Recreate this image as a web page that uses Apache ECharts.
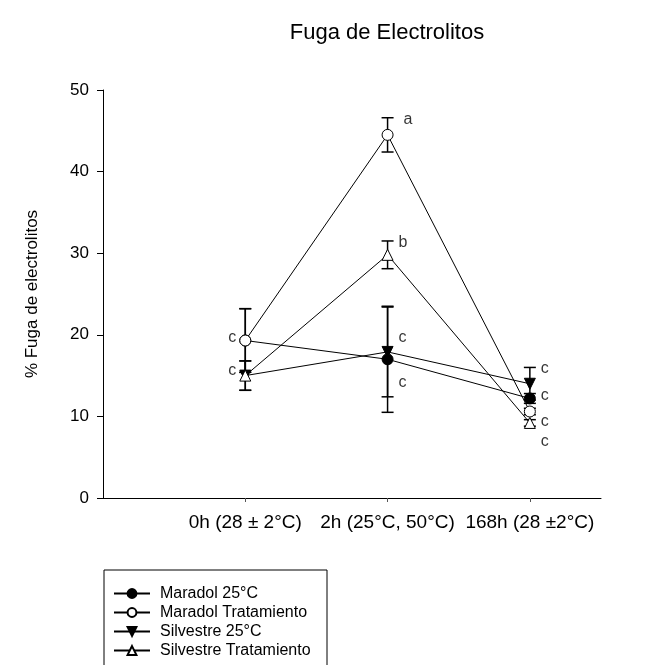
<!DOCTYPE html>
<html>
<head>
<meta charset="utf-8">
<script src="https://cdn.jsdelivr.net/npm/echarts@6/dist/echarts.min.js"></script>
<style>html,body{margin:0;padding:0;background:#fff}#c{width:660px;height:665px}</style>
</head>
<body>
<div id="c"></div>
<script>
var categories = ['0h (28 ± 2°C)', '2h (25°C, 50°C)', '168h (28 ±2°C)'];
var yTicks = [0, 10, 20, 30, 40, 50];
var seriesNames = ['Maradol 25°C', 'Maradol Tratamiento', 'Silvestre 25°C', 'Silvestre Tratamiento'];
var maradol25 = [19.3, 17.0, 12.2];
var maradolTrat = [19.3, 44.5, 10.6];
var silvestre25 = [15.0, 17.9, 14.0];
var silvestreTrat = [15.0, 29.8, 9.2];
var maradol25Err = [3.9, 6.5, 0.6];
var maradolTratErr = [3.9, 2.1, 0.4];
var silvestre25Err = [1.8, 5.5, 2.0];
var silvestreTratErr = [1.8, 1.7, 0.4];
// significance letters: [category index, value, letter]
var lettersRight = [[1, 46.4, 'a'], [1, 31.3, 'b'], [1, 19.6, 'c'], [1, 14.2, 'c'], [2, 15.8, 'c'], [2, 12.6, 'c'], [2, 9.4, 'c'], [2, 6.9, 'c']];
var lettersLeft = [[0, 19.7, 'c'], [0, 15.6, 'c']];

var FONT = 'Liberation Sans, Arial, sans-serif';
var chart = echarts.init(document.getElementById('c'), null, {renderer: 'canvas'});

// categories sit at positions 1,2,3 on an x scale running 0..3.5
var catPos = categories.map(function (c, i) { return i + 1; });
var means = [maradol25, maradolTrat, silvestre25, silvestreTrat];
var errs = [maradol25Err, maradolTratErr, silvestre25Err, silvestreTratErr];
var symbols = ['circle', 'circle', 'triangle', 'triangle'];
var rotates = [0, 0, 180, 0];
var fills = ['#000', '#fff', '#000', '#fff'];

function errData(m, e) {
  return m.map(function (v, i) { return [catPos[i], v - e[i], v + e[i]]; });
}
function pairs(m) {
  return m.map(function (v, i) { return [catPos[i], v]; });
}
function letterData(arr) {
  return arr.map(function (d) {
    var item = {value: [catPos[d[0]], d[1], d[2]]};
    if (d[2] === 'a') item.label = {distance: 16};
    return item;
  });
}

var series = [];
means.forEach(function (m, k) {
  series.push({
    type: 'custom',
    name: seriesNames[k] + ' err',
    data: errData(m, errs[k]),
    z: 2,
    silent: true,
    renderItem: function (params, api) {
      var x = api.value(0);
      var lo = api.coord([x, api.value(1)]);
      var hi = api.coord([x, api.value(2)]);
      var w = 6;
      var st = {stroke: '#000', lineWidth: 1.5};
      return {
        type: 'group',
        children: [
          {type: 'line', shape: {x1: lo[0], y1: lo[1], x2: hi[0], y2: hi[1]}, style: st},
          {type: 'line', shape: {x1: lo[0] - w, y1: lo[1], x2: lo[0] + w, y2: lo[1]}, style: st},
          {type: 'line', shape: {x1: hi[0] - w, y1: hi[1], x2: hi[0] + w, y2: hi[1]}, style: st}
        ]
      };
    }
  });
});
means.forEach(function (m, k) {
  series.push({
    type: 'line',
    name: seriesNames[k],
    data: pairs(m),
    z: 3 + k,
    symbol: symbols[k],
    symbolSize: 11,
    symbolRotate: rotates[k],
    showAllSymbol: true,
    lineStyle: {color: '#000', width: 1},
    itemStyle: {color: fills[k], borderColor: '#000', borderWidth: 1},
    emphasis: {disabled: true}
  });
});
series.push({
  type: 'scatter',
  data: letterData(lettersRight),
  symbolSize: 0,
  silent: true,
  label: {show: true, position: 'right', distance: 11, formatter: function (p) { return p.value[2]; },
          color: '#000', fontSize: 16, fontFamily: FONT}
});
series.push({
  type: 'scatter',
  data: letterData(lettersLeft),
  symbolSize: 0,
  silent: true,
  label: {show: true, position: 'left', distance: 9, formatter: function (p) { return p.value[2]; },
          color: '#000', fontSize: 16, fontFamily: FONT}
});

chart.setOption({
  animation: false,
  backgroundColor: '#fff',
  grid: {left: 103, right: 59, top: 90, bottom: 167, containLabel: false},
  xAxis: {
    type: 'value',
    min: 0,
    max: 3.5,
    axisLine: {show: true, lineStyle: {color: '#000', width: 1}},
    axisTick: {show: true, length: 4, lineStyle: {color: '#555'}, customValues: catPos},
    axisLabel: {color: '#000', fontSize: 19, fontFamily: FONT, margin: 15, customValues: catPos,
                formatter: function (v) { return categories[Math.round(v) - 1] || ''; }},
    splitLine: {show: false}
  },
  yAxis: {
    type: 'value',
    min: yTicks[0],
    max: yTicks[yTicks.length - 1],
    interval: yTicks[1] - yTicks[0],
    name: '% Fuga de electrolitos',
    nameLocation: 'middle',
    nameGap: 62,
    nameRotate: 90,
    nameTextStyle: {color: '#000', fontSize: 17, fontFamily: FONT},
    axisLine: {show: true, lineStyle: {color: '#000', width: 1}},
    axisTick: {show: true, length: 6, lineStyle: {color: '#000'}},
    axisLabel: {color: '#000', fontSize: 17, fontFamily: FONT, margin: 14},
    splitLine: {show: false}
  },
  legend: {
    data: seriesNames,
    orient: 'vertical',
    left: 113,
    top: 585,
    height: 200,
    padding: 0,
    itemWidth: 36,
    itemHeight: 11,
    itemGap: 2,
    selectedMode: false,
    textStyle: {color: '#000', fontSize: 16, lineHeight: 17, fontFamily: FONT, padding: [0, 0, 0, 5]}
  },
  graphic: [
    {type: 'text', x: 387, y: 33, style: {text: 'Fuga de Electrolitos', fill: '#000', font: '22px ' + FONT, align: 'center', verticalAlign: 'middle'}, z: 10},
    {type: 'rect', shape: {x: 104, y: 570, width: 223, height: 130}, style: {fill: 'none', stroke: '#000', lineWidth: 1}, z: 0}
  ],
  series: series
});
</script>
</body>
</html>
